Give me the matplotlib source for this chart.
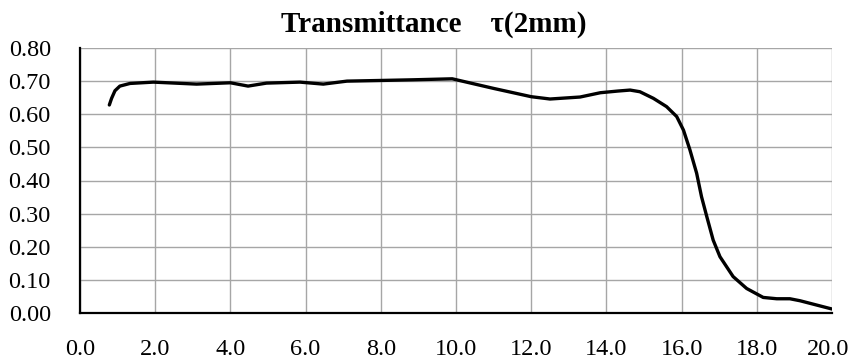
import matplotlib
matplotlib.use('Agg')
import matplotlib.pyplot as plt
import matplotlib.transforms as mtransforms
import numpy as np

# transmittance of the 2 mm sample
wavelength = [0.78, 0.84, 0.93, 1.06, 1.33, 1.95, 3.1, 4.0, 4.47, 4.96,
              5.85, 6.47, 7.1, 8.0, 8.86, 9.9, 11.0, 12.0, 12.5, 13.3,
              13.84, 14.3, 14.63, 14.89, 15.25, 15.6, 15.87, 16.05, 16.22, 16.4,
              16.53, 16.67, 16.84, 17.02, 17.37, 17.73, 18.17, 18.53, 18.88, 19.15,
              20.0]
tau = [0.628, 0.648, 0.671, 0.685, 0.693, 0.697, 0.691, 0.695, 0.685, 0.694,
       0.697, 0.691, 0.700, 0.702, 0.704, 0.707, 0.678, 0.653, 0.646, 0.652,
       0.665, 0.670, 0.673, 0.668, 0.648, 0.623, 0.593, 0.552, 0.493, 0.422,
       0.351, 0.291, 0.220, 0.170, 0.110, 0.074, 0.047, 0.043, 0.043, 0.037,
       0.012]

x_ticks = np.arange(0, 20.1, 2.0)
y_ticks = np.arange(0, 0.81, 0.1)

plt.rcParams['font.family'] = ['Liberation Serif', 'DejaVu Serif']

fig = plt.figure(figsize=(8.5, 3.6), dpi=100)
ax = fig.add_axes([80 / 850, 1 - 313 / 360, 752 / 850, 265 / 360])

ax.plot(wavelength, tau, color='black', lw=2.4, solid_joinstyle='round',
        solid_capstyle='round', zorder=3)

ax.set_xlim(0, 20)
ax.set_ylim(0, 0.8)
ax.set_xticks(x_ticks)
ax.set_xticklabels([f"{v:.1f}" for v in x_ticks])
ax.set_yticks(y_ticks)
ax.set_yticklabels([f"{v:.2f}" for v in y_ticks])
ax.tick_params(length=0, labelsize=17.5, pad=21)
ax.tick_params(axis='x', pad=19)

# keep the last x label inside the figure edge
last = ax.get_xticklabels()[-1]
last.set_transform(last.get_transform() +
                   mtransforms.ScaledTranslation(-4 / 100, 0, fig.dpi_scale_trans))

ax.grid(True, color='#a6a6a6', lw=1.0)
ax.set_axisbelow(True)
for side in ['top', 'right']:
    ax.spines[side].set_visible(False)
for side in ['left', 'bottom']:
    ax.spines[side].set_linewidth(1.6)
    ax.spines[side].set_color('black')
    ax.spines[side].set_zorder(4)

fig.text(434 / 850, 1 - 24 / 360, 'Transmittance  \u00a0 \u03c4(2mm)',
         ha='center', va='center', fontsize=21, fontweight='bold')

fig.savefig('out.png', dpi=100)
